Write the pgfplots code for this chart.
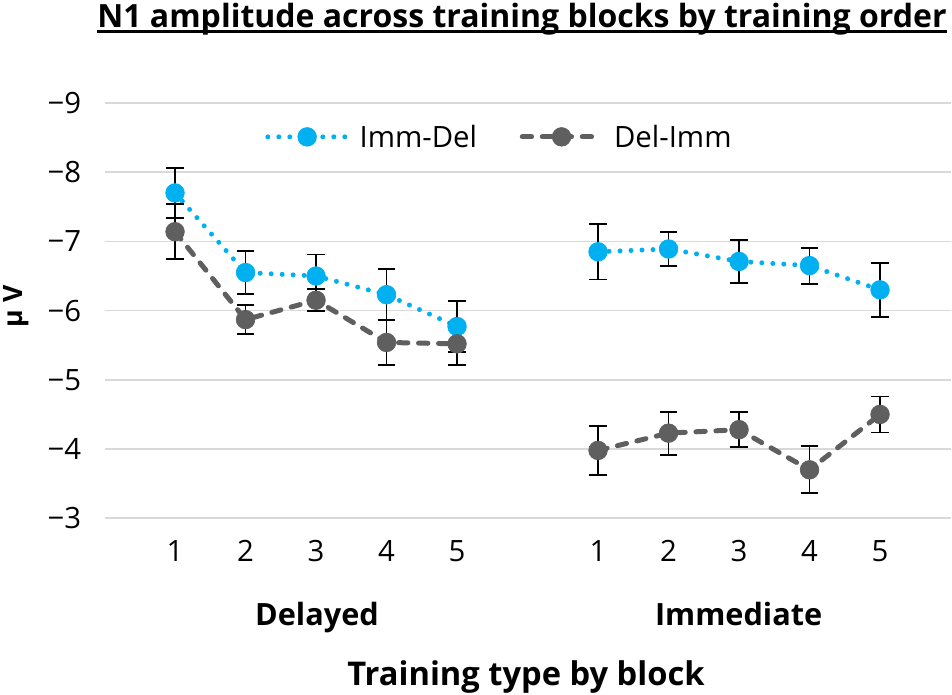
\documentclass[border=0pt]{standalone}
\usepackage{pgfplots}
\pgfplotsset{compat=1.18}
\usepackage{fontspec}
\setmainfont{Open Sans}
\definecolor{cyanS}{HTML}{00B0F0}
\definecolor{grayS}{HTML}{5F5F5F}
\definecolor{gridS}{HTML}{D9D9D9}
\pgfplotsset{
  errs/.style={error bars/.cd, y dir=both, y explicit, error mark=|,
    error bar style={solid, black, line width=1.4pt, line cap=butt},
    error mark options={black, solid, mark size=6.6pt, line width=1.4pt}, /pgfplots/.cd},
  ImmDel/.style={cyanS, line width=3.75pt, dash pattern=on 0pt off 8.25pt, line cap=round,
    mark=*, mark size=7pt, mark options={solid, fill=cyanS, draw=cyanS, line width=0.5pt}, errs},
  DelImm/.style={grayS, line width=3.75pt, dash pattern=on 7pt off 8pt, line cap=round,
    mark=*, mark size=7pt, mark options={solid, fill=grayS, draw=grayS, line width=0.5pt}, errs},
}
\pgfplotstableread{
x y e
1 -7.70 0.36
2 -6.55 0.31
3 -6.50 0.31
4 -6.23 0.37
5 -5.77 0.37
}\imdelA
\pgfplotstableread{
x y e
7 -6.85 0.40
8 -6.89 0.25
9 -6.71 0.31
10 -6.65 0.26
11 -6.30 0.39
}\imdelB
\pgfplotstableread{
x y e
1 -7.14 0.40
2 -5.87 0.21
3 -6.15 0.16
4 -5.54 0.32
5 -5.52 0.30
}\delimA
\pgfplotstableread{
x y e
7 -3.98 0.35
8 -4.23 0.31
9 -4.28 0.25
10 -3.70 0.34
11 -4.50 0.26
}\delimB
\begin{document}
\begin{tikzpicture}
\path[use as bounding box] (0,0) rectangle (714pt,520.5pt);
\begin{axis}[
  at={(78.4pt,131.8pt)}, anchor=south west,
  scale only axis, width=634.5pt, height=311.5pt,
  xmin=0, xmax=12, ymin=-9, ymax=-3, y dir=reverse,
  axis line style={draw=none},
  ymajorgrids, grid style={gridS, line width=1.2pt},
  major tick length=0pt,
  xtick={1,2,3,4,5,7,8,9,10,11}, xticklabels={1,2,3,4,5,1,2,3,4,5},
  ytick={-9,-8,-7,-6,-5,-4,-3}, yticklabels={−9,−8,−7,−6,−5,−4,−3},
  tick label style={font=\fontsize{22}{26}\selectfont},
  yticklabel style={xshift=-14pt},
  xticklabel style={yshift=-13pt},
  clip=false,
  legend style={at={(axis cs:2.22,-8.51)}, anchor=west, draw=none, fill=none,
    legend columns=2, font=\fontsize{22}{26}\selectfont,
    /tikz/every odd column/.append style={column sep=6pt},
    /tikz/every even column/.append style={column sep=30pt}},
  legend image code/.code={\draw[mark repeat=2,mark phase=2,#1] plot coordinates {(0pt,0pt) (29.5pt,0pt) (59pt,0pt)};},
]
\addplot[ImmDel] table[x=x,y=y,y error=e]{\imdelA};
\addlegendentry{Imm-Del}
\addplot[DelImm] table[x=x,y=y,y error=e]{\delimA};
\addlegendentry{Del-Imm}
\addplot[forget plot, ImmDel] table[x=x,y=y,y error=e]{\imdelB};
\addplot[forget plot, DelImm] table[x=x,y=y,y error=e]{\delimB};
\end{axis}
\node[font=\fontsize{23}{27}\selectfont\bfseries, anchor=base] at (237.75pt,51.75pt) {Delayed};
\node[font=\fontsize{23}{27}\selectfont\bfseries, anchor=base] at (554pt,51.75pt) {Immediate};
\node[font=\fontsize{24.5}{29}\selectfont\bfseries, anchor=base] at (394.5pt,6.75pt) {Training type by block};
\node[font=\fontsize{20}{24}\selectfont\bfseries, rotate=90, anchor=base] at (17pt,290.6pt) {μ V};
\node[font=\fontsize{24}{28}\selectfont\bfseries, anchor=base, inner sep=0pt] (T) at (391.5pt,499.5pt) {N1 amplitude across training blocks by training order};
\draw[line width=2pt] ([yshift=-2.8pt]T.base west) -- ([yshift=-2.8pt]T.base east);
\end{tikzpicture}
\end{document}
